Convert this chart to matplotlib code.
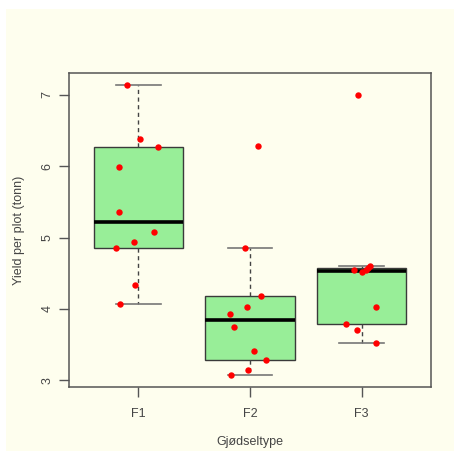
import numpy as np
import matplotlib
matplotlib.use("Agg")
import matplotlib.pyplot as plt
from matplotlib.patches import Rectangle

plt.rcParams['font.family'] = ['Liberation Sans', 'DejaVu Sans']

# Yield per plot (tonn) for each fertiliser type
categories = ["F1", "F2", "F3"]
yield_f1 = [7.14, 6.38, 6.27, 5.99, 5.36, 5.08, 4.94, 4.85, 4.34, 4.07]
yield_f2 = [6.28, 4.86, 4.18, 4.03, 3.93, 3.75, 3.41, 3.28, 3.15, 3.07]
yield_f3 = [7.00, 4.55, 4.52, 4.55, 4.57, 4.60, 4.03, 3.79, 3.70, 3.52]
# horizontal jitter of each point (in category units)
jitter_f1 = [-0.105, 0.018, 0.175, -0.171, -0.171, 0.139, -0.036, -0.198, -0.030, -0.165]
jitter_f2 = [0.072, -0.045, 0.094, -0.023, -0.177, -0.147, 0.036, 0.144, -0.018, -0.171]
jitter_f3 = [-0.033, -0.072, 0.003, 0.036, 0.060, 0.078, 0.126, -0.138, -0.042, 0.132]
y_ticks = [3, 4, 5, 6, 7]

groups = [yield_f1, yield_f2, yield_f3]
jitters = [jitter_f1, jitter_f2, jitter_f3]


def fivenum_stats(values, label):
    """Tukey hinges and whiskers (1.5 x hinge spread), like R's boxplot.stats."""
    x = np.sort(np.asarray(values, dtype=float))
    n = len(x)
    n4 = np.floor((n + 3) / 2) / 2
    d = np.array([1, n4, (n + 1) / 2, n + 1 - n4, n]) - 1
    fn = 0.5 * (x[np.floor(d).astype(int)] + x[np.ceil(d).astype(int)])
    lo_h, med, hi_h = fn[1], fn[2], fn[3]
    spread = 1.5 * (hi_h - lo_h)
    inside = x[(x >= lo_h - spread) & (x <= hi_h + spread)]
    return dict(label=label, med=med, q1=lo_h, q3=hi_h,
                whislo=inside.min(), whishi=inside.max(), fliers=[])


stats = [fivenum_stats(g, c) for g, c in zip(groups, categories)]

fig = plt.figure(figsize=(4.54, 4.51), dpi=100, facecolor="white")
ivory = "#FEFEEE"
fig.patches.append(Rectangle((6 / 454, 0), 1 - 6 / 454, 1 - 9 / 451,
                             transform=fig.transFigure, facecolor=ivory,
                             edgecolor="none", zorder=-10))

ax = fig.add_axes([69 / 454, 1 - 387 / 451, (431 - 69) / 454, (387 - 73) / 451])
ax.set_facecolor(ivory)

positions = np.arange(1, len(categories) + 1)
ax.bxp(stats, positions=positions, widths=0.8, patch_artist=True,
       showfliers=False,
       boxprops=dict(facecolor="#98EE98", edgecolor="#3A3A3A", linewidth=1.0),
       medianprops=dict(color="black", linewidth=2.6),
       whiskerprops=dict(color="#444444", linewidth=1.0, linestyle=(0, (3, 2.5))),
       capprops=dict(color="#777777", linewidth=1.2),
       capwidths=0.4)

for pos, g, jit in zip(positions, groups, jitters):
    ax.plot(pos + np.asarray(jit), g, "o", color="red", markersize=4.6,
            markeredgewidth=0, zorder=5)

all_vals = np.concatenate(groups)
span = all_vals.max() - all_vals.min()
ax.set_ylim(all_vals.min() - 0.04 * span, all_vals.max() + 0.04 * span)
ax.set_xlim(0.5 - 0.12, len(categories) + 0.5 + 0.12)

ax.set_xticks(positions)
ax.set_xticklabels(categories)
ax.set_yticks(y_ticks)
ax.set_yticklabels([str(t) for t in y_ticks], rotation=90, va="center")

for spine in ax.spines.values():
    spine.set_color("#555555")
    spine.set_linewidth(1.1)

ax.tick_params(axis="both", length=7, width=1.0, color="#555555",
               labelcolor="#444444", labelsize=9)
ax.tick_params(axis="x", pad=8)
ax.tick_params(axis="y", pad=4)

ax.set_xlabel("Gjødseltype", fontsize=9, color="#444444", labelpad=12)
ax.set_ylabel("Yield per plot (tonn)", fontsize=9, color="#444444", labelpad=12)

fig.savefig("out.png", dpi=100, facecolor=fig.get_facecolor())
